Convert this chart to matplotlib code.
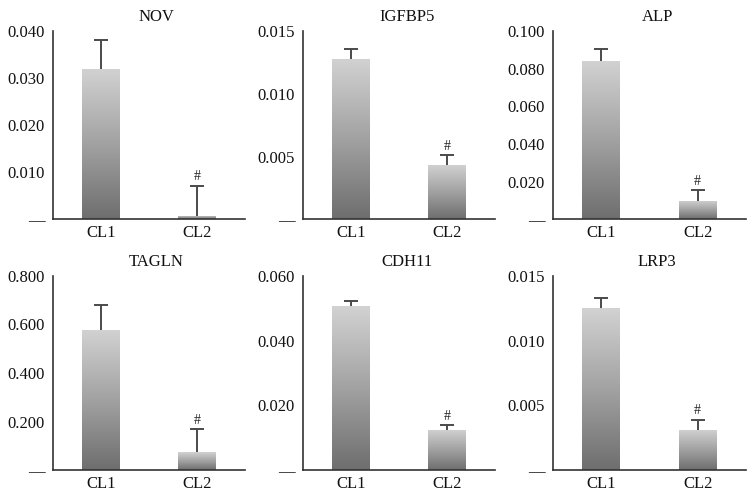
import numpy as np
import matplotlib
matplotlib.use("Agg")
import matplotlib.pyplot as plt
from matplotlib.colors import LinearSegmentedColormap

plt.rcParams["font.family"] = ["Liberation Serif", "DejaVu Serif"]

# values (mean and upper error)
genes = ["NOV", "IGFBP5", "ALP", "TAGLN", "CDH11", "LRP3"]
groups = ["CL1", "CL2"]
cl1_mean = [0.0319, 0.0128, 0.084, 0.579, 0.0507, 0.0125]
cl1_err = [0.0061, 0.0008, 0.0064, 0.103, 0.0015, 0.0008]
cl2_mean = [0.0008, 0.0043, 0.0096, 0.073, 0.0125, 0.0031]
cl2_err = [0.0064, 0.0008, 0.0058, 0.096, 0.0015, 0.0008]
y_max = [0.040, 0.015, 0.100, 0.800, 0.060, 0.015]
y_step = [0.010, 0.005, 0.020, 0.200, 0.020, 0.005]

W, H = 756, 499
fig = plt.figure(figsize=(W / 100, H / 100), dpi=100)

col_left = [53, 303, 553]
col_width = [192, 192, 193]
row_top = [31, 276]
row_bottom = [219.5, 470]

cmap = LinearSegmentedColormap.from_list("bar", ["#6e6e6e", "#a2a2a2", "#d2d2d2"])
grad = np.linspace(0, 1, 256).reshape(-1, 1)
axis_col = "#333333"
err_col = "#4a4a4a"
cap_half = 0.07

for i, gene in enumerate(genes):
    r, c = divmod(i, 3)
    ax = fig.add_axes([col_left[c] / W, 1 - row_bottom[r] / H,
                       col_width[c] / W, (row_bottom[r] - row_top[r]) / H])

    x = np.array([0, 1])
    means = np.array([cl1_mean[i], cl2_mean[i]])
    errs = np.array([cl1_err[i], cl2_err[i]])
    bars = ax.bar(x, means, width=0.39, color="none", edgecolor="none", zorder=2)
    for b in bars:
        x0, w, h = b.get_x(), b.get_width(), b.get_height()
        im = ax.imshow(grad, cmap=cmap, origin="lower", aspect="auto",
                       extent=[x0, x0 + w, 0, h], zorder=2)
        im.set_clip_path(b)

    # upper error bars only
    ax.vlines(x, means, means + errs, color=err_col, lw=1.4, zorder=3)
    ax.hlines(means + errs, x - cap_half, x + cap_half, color=err_col, lw=1.4, zorder=3)

    ax.set_xlim(-0.5, 1.5)
    ax.set_ylim(0, y_max[i])

    ax.annotate("#", (1, means[1] + errs[1]), xytext=(0, 1.5),
                textcoords="offset points", ha="center", va="bottom",
                fontsize=10, color="#222222")

    ticks = np.arange(0, y_max[i] + y_step[i] / 2, y_step[i])
    ax.set_yticks(ticks)
    ax.set_yticklabels(["\u2014"] + [f"{t:.3f}" for t in ticks[1:]])
    ax.set_xticks(x)
    ax.set_xticklabels(groups)
    ax.tick_params(axis="both", length=0, labelsize=12, colors="#111111")
    ax.tick_params(axis="y", pad=6)
    ax.tick_params(axis="x", pad=4)

    for s in ["top", "right"]:
        ax.spines[s].set_visible(False)
    for s in ["left", "bottom"]:
        ax.spines[s].set_color(axis_col)
        ax.spines[s].set_linewidth(1.2)

    ax.set_title(gene, x=0.54, pad=7, fontsize=12, color="#111111")

fig.savefig("out.png", dpi=100)
